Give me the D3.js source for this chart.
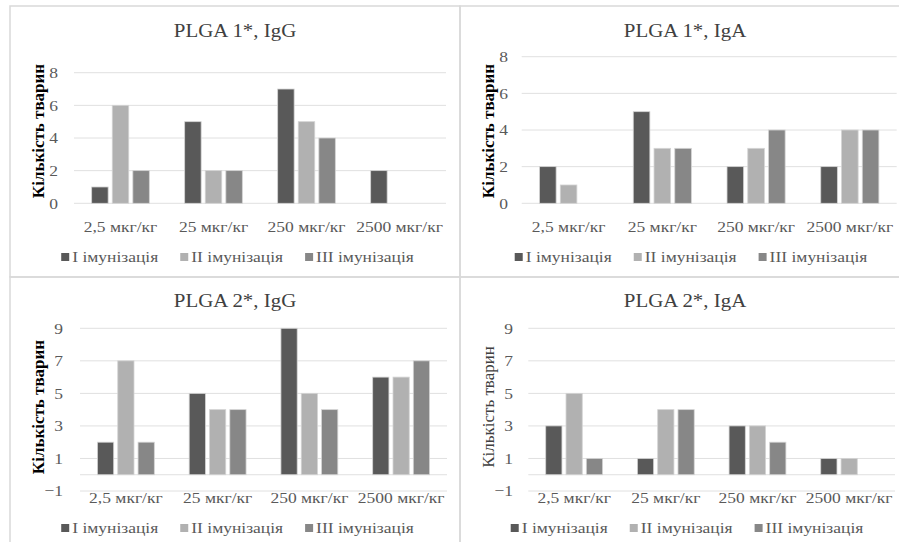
<!DOCTYPE html>
<html lang="uk">
<head>
<meta charset="utf-8">
<title>PLGA</title>
<script src="https://cdn.jsdelivr.net/npm/d3@7"></script>
<style>
  body { margin: 0; background: #fff; }
  svg text { font-family: "Liberation Serif", "Times New Roman", serif !important; }
</style>
</head>
<body>
<div id="chart"></div>
<script>
// categories and series
const doses = ["2,5 мкг/кг", "25 мкг/кг", "250 мкг/кг", "2500 мкг/кг"]
const series = ["I імунізація", "II імунізація", "III імунізація"]
const colors = ["#595959", "#b1b1b1", "#878787"]

// PLGA 1*, IgG
const p1IgG_I = [1, 5, 7, 2]
const p1IgG_II = [6, 2, 5, 0]
const p1IgG_III = [2, 2, 4, 0]
// PLGA 1*, IgA
const p1IgA_I = [2, 5, 2, 2]
const p1IgA_II = [1, 3, 3, 4]
const p1IgA_III = [0, 3, 4, 4]
// PLGA 2*, IgG
const p2IgG_I = [2, 5, 9, 6]
const p2IgG_II = [7, 4, 5, 6]
const p2IgG_III = [2, 4, 4, 7]
// PLGA 2*, IgA
const p2IgA_I = [3, 1, 3, 1]
const p2IgA_II = [5, 4, 3, 1]
const p2IgA_III = [1, 4, 2, 0]

const ticksTop = [0, 2, 4, 6, 8]
const ticksBottom = [-1, 1, 3, 5, 7, 9]

const yLabel = "Кількість тварин"

const W = 899, H = 542
const FONT = "Liberation Serif"
// the source picture is a little wider than tall, so text is stretched sideways
const SX = 1.13
const LEG_GAP = 22

const svg = d3.select("#chart").append("svg")
  .attr("width", W)
  .attr("height", H)

// panel frames
const frames = [[10, 6, 450, 271], [460, 6, 460, 271], [10, 277, 450, 280], [460, 277, 460, 280]]
svg.selectAll("rect.frame").data(frames).enter().append("rect")
  .attr("class", "frame")
  .attr("x", d => d[0]).attr("y", d => d[1])
  .attr("width", d => d[2]).attr("height", d => d[3])
  .attr("fill", "none")
  .attr("stroke", "#d9d9d9")
  .attr("stroke-width", 1.5)

function drawPanel(o) {
  const g = svg.append("g").style("font-family", FONT)

  const y = d3.scaleLinear().domain(o.domain).range([o.y0, o.y1])
  const x0 = d3.scaleBand().domain(doses).range([o.xl, o.xr])
    .paddingInner(0.38).paddingOuter(0.19)
  const x1 = d3.scaleBand().domain(series).range([0, x0.bandwidth()])
    .paddingInner(0.2)

  // gridlines (plus the zero line when the axis goes below 0)
  const lines = o.ticks.slice()
  if (o.domain[0] < 0) lines.push(0)
  g.selectAll("line.grid").data(lines).enter().append("line")
    .attr("x1", o.xl).attr("x2", o.xr)
    .attr("y1", d => y(d)).attr("y2", d => y(d))
    .attr("stroke", "#e0e0e0")
    .attr("stroke-width", 1)

  // y axis labels
  const yAxis = d3.axisLeft(y).tickValues(o.ticks).tickSize(0).tickPadding(0)
  const ya = g.append("g")
    .attr("transform", "translate(" + o.tickX + ",0)")
    .call(yAxis)
  ya.attr("font-family", null).attr("font-size", null)
  ya.select(".domain").remove()
  ya.selectAll("text")
    .style("font-family", FONT)
    .style("font-size", "15.5px")
    .attr("transform", "scale(" + SX + ",1)")
    .attr("fill", "#595959")

  // x axis labels
  const xAxis = d3.axisBottom(x0).tickSize(0).tickPadding(0)
  const xa = g.append("g")
    .attr("transform", "translate(0," + o.catY + ")")
    .call(xAxis)
  xa.attr("font-family", null).attr("font-size", null)
  xa.select(".domain").remove()
  xa.selectAll("text")
    .style("font-family", FONT)
    .style("font-size", "15.5px")
    .attr("transform", "scale(" + SX + ",1)")
    .attr("fill", "#595959")
    .attr("dy", 0)

  // bars
  const rows = doses.map((d, i) => ({ dose: d, vals: o.data.map(s => s[i]) }))
  const grp = g.selectAll("g.cat").data(rows).enter().append("g")
    .attr("transform", d => "translate(" + x0(d.dose) + ",0)")
  grp.selectAll("rect").data(d => d.vals.map((v, j) => ({ s: series[j], v: v, j: j })).filter(e => e.v !== 0))
    .enter().append("rect")
    .attr("x", d => x1(d.s))
    .attr("width", x1.bandwidth())
    .attr("y", d => y(d.v))
    .attr("height", d => y(0) - y(d.v))
    .attr("fill", d => colors[d.j])
    .attr("stroke", "#d4d4d4")
    .attr("stroke-width", 0.8)

  // title
  g.append("text")
    .attr("transform", "translate(" + o.titleX + "," + o.titleY + ") scale(" + SX + ",1)")
    .attr("text-anchor", "middle")
    .style("font-family", FONT)
    .style("font-size", "18.5px")
    .attr("fill", "#404040")
    .text(o.title)

  // y label
  g.append("text")
    .attr("transform", "translate(" + o.labX + "," + o.labY + ") rotate(-90)")
    .attr("text-anchor", "middle")
    .style("font-family", FONT)
    .style("font-size", "17px")
    .style("font-weight", o.bold ? "bold" : "normal")
    .attr("fill", o.bold ? "#000" : "#404040")
    .text(yLabel)

  // legend
  const leg = g.append("g")
  let cx = 0
  series.forEach((s, i) => {
    const it = leg.append("g").attr("transform", "translate(" + cx + ",0)")
    it.append("rect").attr("x", 0).attr("y", -4).attr("width", 8).attr("height", 8)
      .attr("fill", colors[i])
    const t = it.append("text")
      .attr("transform", "translate(11,5) scale(" + SX + ",1)")
      .style("font-family", FONT)
      .style("font-size", "15.5px").attr("fill", "#595959").text(s)
    cx += 11 + t.node().getComputedTextLength() * SX + LEG_GAP
  })
  const lw = cx - LEG_GAP
  leg.attr("transform", "translate(" + (o.legX - lw / 2) + "," + o.legY + ")")
}

drawPanel({
  title: "PLGA 1*, IgG", data: [p1IgG_I, p1IgG_II, p1IgG_III],
  domain: [0, 8], ticks: ticksTop, y0: 203.3, y1: 72.7,
  xl: 74, xr: 446, tickX: 58, catY: 232, titleX: 235, titleY: 37,
  labX: 44, labY: 131, bold: true, legX: 237.5, legY: 257
})
drawPanel({
  title: "PLGA 1*, IgA", data: [p1IgA_I, p1IgA_II, p1IgA_III],
  domain: [0, 8], ticks: ticksTop, y0: 203.3, y1: 56.7,
  xl: 521.7, xr: 896.7, tickX: 508, catY: 232, titleX: 685, titleY: 37,
  labX: 494, labY: 131, bold: true, legX: 691, legY: 257
})
drawPanel({
  title: "PLGA 2*, IgG", data: [p2IgG_I, p2IgG_II, p2IgG_III],
  domain: [-1, 9], ticks: ticksBottom, y0: 491, y1: 328.3,
  xl: 80, xr: 447, tickX: 63, catY: 503, titleX: 235, titleY: 307,
  labX: 44, labY: 407, bold: true, legX: 237.5, legY: 528
})
drawPanel({
  title: "PLGA 2*, IgA", data: [p2IgA_I, p2IgA_II, p2IgA_III],
  domain: [-1, 9], ticks: ticksBottom, y0: 491, y1: 328.3,
  xl: 528.3, xr: 895, tickX: 513, catY: 503, titleX: 685, titleY: 307,
  labX: 494, labY: 407, bold: false, legX: 687, legY: 528
})
</script>
</body>
</html>
